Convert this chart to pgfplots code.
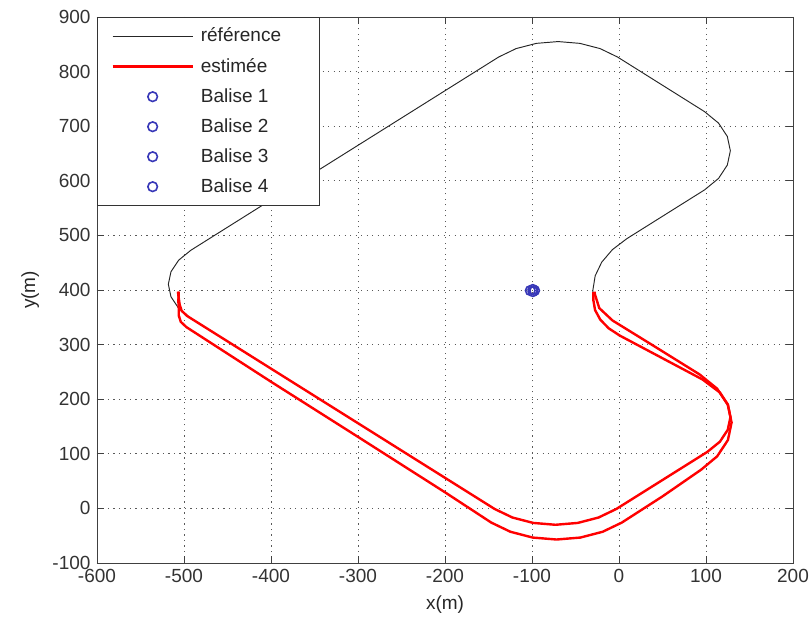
\documentclass[border=0pt]{standalone}
\usepackage{fontspec}
\setmainfont{Liberation Sans}
\usepackage{pgfplots}
\pgfplotsset{compat=1.18}
\definecolor{balise}{rgb}{0.22,0.22,0.72}
\pgfplotsset{
  lineleg/.style={legend image code/.code={\draw[##1] (0bp,0bp) -- (80bp,0bp); \path (85bp,0bp);}},
  markleg/.style={legend image code/.code={\path (0bp,0bp) (85bp,0bp); \draw[##1] plot coordinates {(40bp,0bp)};}},
  balisestyle/.style={only marks, mark=o, mark size=4.8bp, balise, line width=1.6bp, markleg},
}
\begin{document}
\fontsize{19bp}{22bp}\selectfont
\begin{tikzpicture}
\begin{axis}[
  scale only axis,
  width=696bp, height=546bp,
  xmin=-600, xmax=200, ymin=-100, ymax=900,
  xtick distance=100, ytick distance=100,
  /pgf/number format/assume math mode=true,
  /pgf/number format/1000 sep={},
  tick label style={font=\fontsize{19bp}{22bp}\selectfont, text=black!80},
  label style={font=\fontsize{19bp}{22bp}\selectfont, text=black!85},
  xlabel={x(m)}, ylabel={y(m)},
  xlabel style={at={(axis description cs:0.5,-0.077)}, anchor=center},
  ylabel style={at={(axis description cs:-0.096,0.5)}, anchor=center},
  tick align=inside, major tick length=7bp,
  axis line style={black!75, line width=0.9bp},
  every tick/.style={black!75, line width=0.9bp},
  grid=major,
  grid style={black!65, line width=0.9bp, dash pattern=on 1.1bp off 4.4bp},
  legend cell align=left,
  legend style={at={(0,1)}, anchor=north west, draw=black!80, line width=0.9bp,
    font=\fontsize{19bp}{22bp}\selectfont, text=black!85,
    inner xsep=14bp, inner ysep=8.5bp, row sep=9.4bp},
]
% reference trajectory
\addplot[black!85, line width=0.95bp, lineleg] coordinates {
(-474,330) (-492.2,348.3) (-506.2,366.5) (-515.0,387.7) (-518,410.5)
(-515.0,433.3) (-506.2,454.5) (-492.2,472.7)
(-400,565) (-300,665) (-200,765)
(-138.3,826.7) (-118.3,842.1) (-95.0,851.7) (-70,855.0) (-45.0,851.7)
(-21.7,842.1) (-1.7,826.7)
(50,775)
(98.3,726.7) (114.4,705.7) (124.5,681.2) (128,655) (124.5,628.8)
(114.4,604.3) (98.3,583.3)
(50,535)
(9.0,494.0) (-7.6,473.9) (-19.9,450.9) (-27.4,425.9) (-30,400) (-30,395)
};
\addlegendentry{référence\hspace*{22bp}}
% estimated trajectory (outer)
\addplot[red, line width=2.4bp, lineleg] coordinates {
(-506,397) (-506.5,380) (-506,365) (-506,353.2) (-503.7,341.7) (-497.2,332.0)
(-400,232) (-300,131) (-200,29.5)
(-146.8,-26.0) (-124.8,-42.8) (-99.2,-53.4) (-71.8,-57) (-44.4,-53.4)
(-18.8,-42.8) (3.2,-26.0)
(50,22)
(94.3,70.8) (112.8,95.3) (125.2,125.2) (129.4,157.3) (125.2,189.4)
(112.8,219.3) (92.5,245.5)
(40,297.5)
(-7.5,344.2) (-22.7,366.9) (-28,393.7) (-28,397)
};
\addlegendentry{estimée}
% estimated trajectory (inner)
\addplot[red, line width=2.4bp, forget plot] coordinates {
(-507,397) (-506,385) (-505,373.4) (-502.7,361.9) (-496.2,352.2)
(-400,256) (-300,156) (-200,56)
(-143,-1) (-122.5,-16.7) (-98.6,-26.6) (-73,-30) (-47.4,-26.6)
(-23.5,-16.7) (-3,-1)
(50,52)
(101.7,103.7) (116.0,122.2) (125.0,143.9) (128.1,167.2) (125.0,190.5)
(116.0,212.2) (96.0,236.1)
(50,275)
(0.9,316.5) (-11.9,329.9) (-21.5,345.7) (-27.5,363.2) (-29.5,381.6) (-29.5,396)
};
\addplot[balisestyle] coordinates {(-102,399)};
\addlegendentry{Balise 1}
\addplot[balisestyle] coordinates {(-99,397)};
\addlegendentry{Balise 2}
\addplot[balisestyle] coordinates {(-97,399)};
\addlegendentry{Balise 3}
\addplot[balisestyle] coordinates {(-99,401)};
\addlegendentry{Balise 4}
\end{axis}
\pgfresetboundingbox
\useasboundingbox (current axis.south west) ++(-97bp,-67bp) rectangle ++(811bp,630bp);
\end{tikzpicture}
\end{document}
